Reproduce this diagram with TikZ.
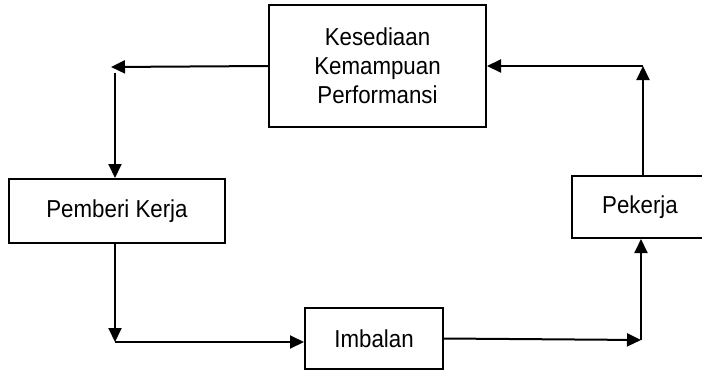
\documentclass[tikz,border=0pt]{standalone}
\usepackage{fontspec}
\setmainfont[FakeStretch=0.91]{Liberation Sans}
\usetikzlibrary{arrows.meta}
\tikzset{
  box/.style={draw, line width=2pt, inner sep=0pt, align=center,
    font=\fontsize{24.5}{29}\selectfont},
  arr/.style={line width=2pt, -{Triangle[length=14pt,width=13pt]}},
}
\begin{document}
\begin{tikzpicture}[x=1pt,y=-1pt]
\useasboundingbox (0,0) rectangle (702,370);
\node[box, minimum width=217pt, minimum height=122pt] (top) at (377.5,66) {Kesediaan\\Kemampuan\\Performansi};
\node[box, minimum width=216pt, minimum height=64pt] (pem) at (117,211) {Pemberi Kerja};
\node[box, minimum width=138pt, minimum height=61pt] (imb) at (374,338.5) {Imbalan};
\node[box, minimum width=136pt, minimum height=62pt] (pek) at (640,207) {Pekerja};
\coordinate (tl) at (111,67);
\coordinate (ls) at (115,73);
\coordinate (bl) at (115,342);
\coordinate (br) at (641,340);
\coordinate (tr) at (643,66);
\draw[arr] (top.west) -- (tl);
\draw[arr] (ls) -- (ls |- pem.north);
\draw[arr] (pem.south -| bl) -- (bl);
\draw[arr] (bl) -- (imb.west |- bl);
\draw[arr] (imb.east) -- (br);
\draw[arr] (br) -- (br |- pek.south);
\draw[arr] (pek.north -| tr) -- (tr);
\draw[arr] (tr) -- (top.east |- tr);
\end{tikzpicture}
\end{document}
